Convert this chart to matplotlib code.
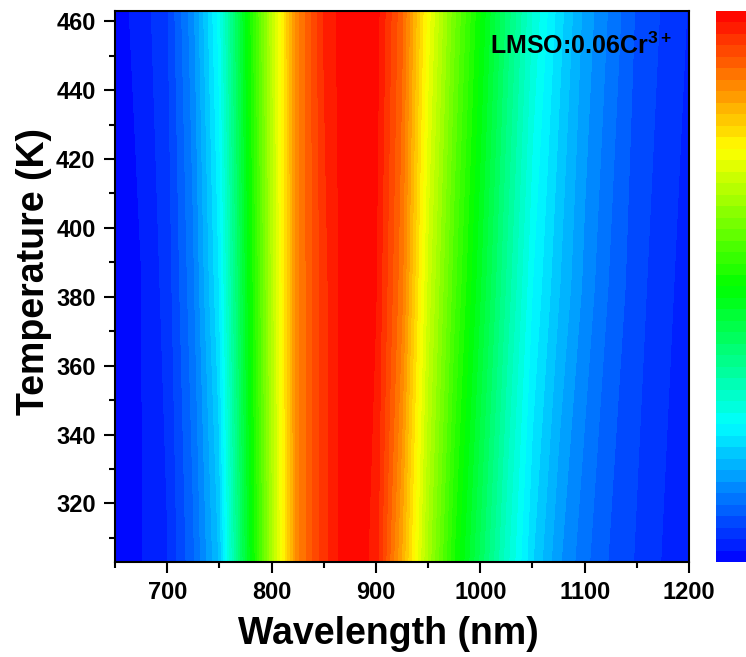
import numpy as np
import matplotlib
matplotlib.use("Agg")
from matplotlib import pyplot as plt
from matplotlib.colors import LinearSegmentedColormap
from matplotlib.ticker import MultipleLocator

# normalised emission map of LMSO:0.06Cr3+
wavelength = [650, 675, 700, 725, 750, 775, 800, 825, 850, 875, 900, 925,
              950, 975, 1000, 1025, 1050, 1075, 1100, 1125, 1150, 1175, 1200]
temperature = [303, 383, 463]

spec_303 = [0.00, 0.02, 0.04, 0.10, 0.19, 0.44, 0.66, 0.87, 0.95, 1.00, 0.97, 0.83,
            0.66, 0.52, 0.41, 0.30, 0.21, 0.15, 0.11, 0.08, 0.06, 0.04, 0.03]
spec_383 = [0.00, 0.02, 0.05, 0.12, 0.23, 0.46, 0.67, 0.87, 0.95, 1.00, 0.98, 0.88,
            0.70, 0.57, 0.46, 0.35, 0.25, 0.19, 0.14, 0.10, 0.07, 0.05, 0.03]
spec_463 = [0.01, 0.03, 0.06, 0.14, 0.26, 0.48, 0.68, 0.87, 0.96, 1.00, 0.99, 0.90,
            0.74, 0.61, 0.50, 0.39, 0.29, 0.22, 0.16, 0.12, 0.08, 0.06, 0.04]

label = r"LMSO:0.06Cr$\mathbf{^{3+}}$"

plt.rcParams['font.family'] = ['Liberation Sans', 'DejaVu Sans']
plt.rcParams['font.weight'] = 'bold'
plt.rcParams['mathtext.fontset'] = 'custom'
plt.rcParams['mathtext.bf'] = 'Liberation Sans:bold'
plt.rcParams['mathtext.rm'] = 'Liberation Sans:bold'

rainbow = LinearSegmentedColormap.from_list(
    'origin_rainbow', ['#0000ff', '#00ffff', '#00ff00', '#ffff00', '#ff0000'])

Z = np.array([spec_303, spec_383, spec_463])
X, Y = np.meshgrid(wavelength, temperature)

fig = plt.figure(figsize=(7.46, 6.57), dpi=100)
ax = fig.add_axes([0.1542, 0.1446, 0.7694, 0.8387])
levels = np.linspace(0, 1.0, 49)
cs = ax.contourf(X, Y, Z, levels=levels, cmap=rainbow)

ax.set_xlim(650, 1200)
ax.set_ylim(303, 463)
ax.xaxis.set_minor_locator(MultipleLocator(50))
ax.yaxis.set_minor_locator(MultipleLocator(10))
ax.set_xticks([700, 800, 900, 1000, 1100, 1200])
ax.set_yticks([320, 340, 360, 380, 400, 420, 440, 460])
ax.tick_params(which='major', direction='out', length=8, width=1.5, labelsize=17, pad=6)
ax.tick_params(which='minor', direction='out', length=4.5, width=1.5)
for s in ax.spines.values():
    s.set_linewidth(1.5)

ax.set_xlabel("Wavelength (nm)", fontsize=27, fontweight='bold')
ax.set_ylabel("Temperature (K)", fontsize=27, fontweight='bold')
ax.xaxis.set_label_coords(0.476, -0.098)
ax.yaxis.set_label_coords(-0.11, 0.527)
ax.text(0.97, 0.96, label, transform=ax.transAxes, ha='right', va='top',
        fontsize=18, fontweight='bold')

# colour bar sits at the right edge, partly outside the picture
cax = fig.add_axes([0.960, 0.1446, 0.06, 0.8387])
cb = fig.colorbar(cs, cax=cax)
cb.outline.set_visible(False)
cb.set_ticks([])
cax.tick_params(length=0)

fig.savefig("out.png", dpi=100)
